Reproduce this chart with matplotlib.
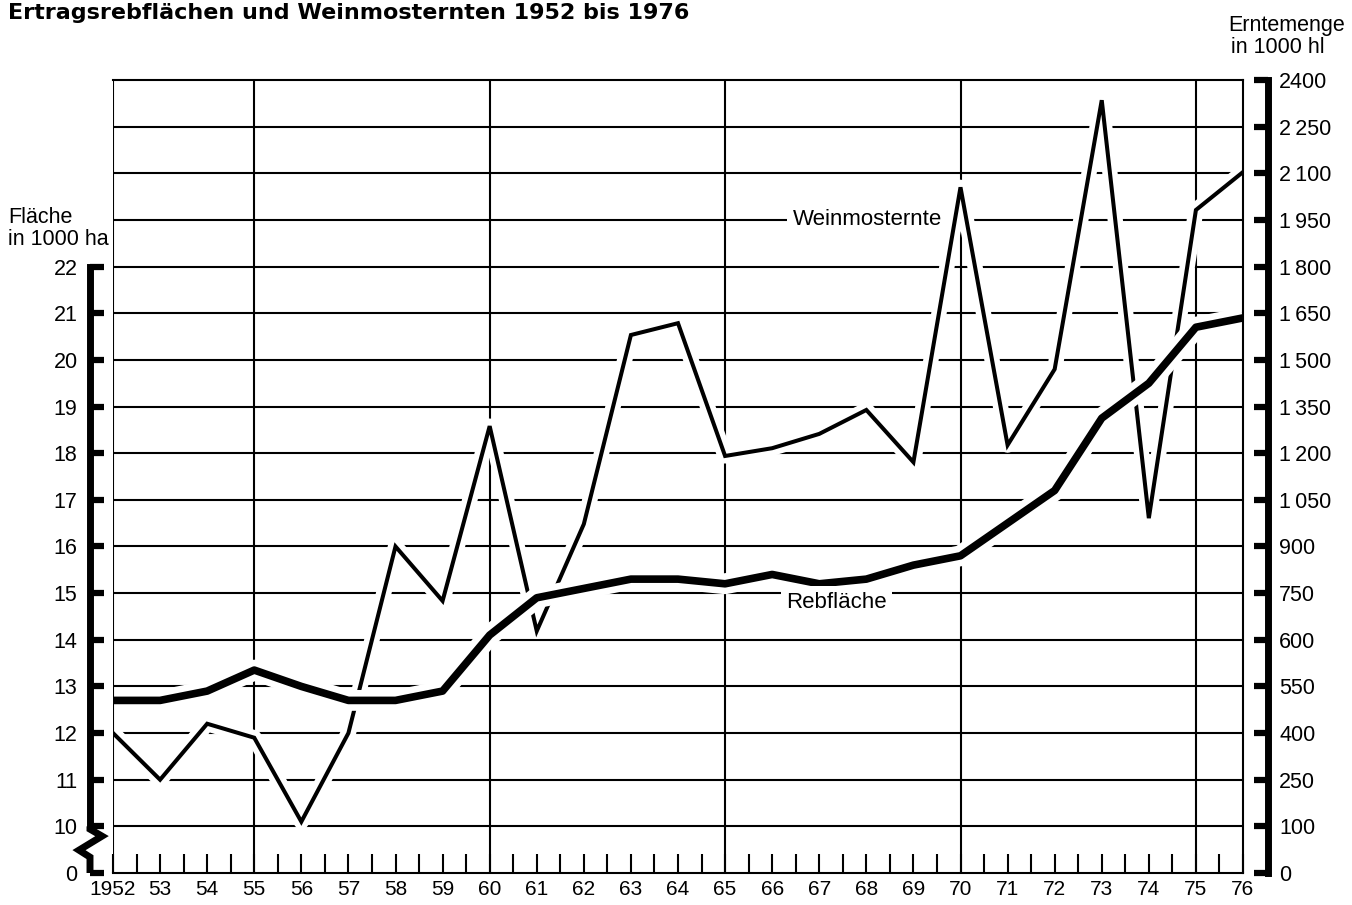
"""Ertragsrebflächen und Weinmosternten 1952 bis 1976 – Nachbau der Grafik
mit zwei gebrochenen Skalen (Fläche links, Erntemenge rechts)."""
import numpy as np
import matplotlib
matplotlib.use("Agg")
import matplotlib.pyplot as plt
import matplotlib.patheffects as pe

plt.rcParams["font.family"] = ["Liberation Sans", "DejaVu Sans"]

# Daten
jahre = list(range(1952, 1977))
rebflaeche = [12.7, 12.7, 12.9, 13.35, 13.0, 12.7, 12.7, 12.9, 14.1, 14.9,
              15.1, 15.3, 15.3, 15.2, 15.4, 15.2, 15.3, 15.6, 15.8, 16.5,
              17.2, 18.75, 19.5, 20.7, 20.9]          # 1000 ha
weinmost = [400, 250, 430, 385, 115, 400, 900, 725, 1287, 628,
            972, 1580, 1618, 1191, 1216, 1262, 1339, 1171, 2055, 1226,
            1470, 2335, 991, 1982, 2104]               # 1000 hl

# Skalen (Rasterlinien in gleichen Abständen, Beschriftung wie im Original)
flaeche_ticks = [0, 10, 11, 12, 13, 14, 15, 16, 17, 18, 19, 20, 21, 22]
ernte_ticks = [0, 100, 250, 400, 550, 600, 750, 900, 1050, 1200, 1350,
               1500, 1650, 1800, 1950, 2100, 2250, 2400]
ernte_labels = ["0", "100", "250", "400", "550", "600", "750", "900",
                "1\u2009050", "1\u2009200", "1\u2009350", "1\u2009500",
                "1\u2009650", "1\u2009800", "1\u2009950", "2\u2009100",
                "2\u2009250", "2400"]
jahr_labels = ["1952"] + [str(j)[2:] for j in jahre[1:]]

# Stützstellen der Funktionsskalen (Index = Rasterposition)
fl_werte = flaeche_ticks + [26]
fl_pos = list(range(len(flaeche_ticks))) + [17]
er_pos = list(range(len(ernte_ticks)))


def fl_fwd(v):
    return np.interp(v, fl_werte, fl_pos)


def fl_inv(p):
    return np.interp(p, fl_pos, fl_werte)


def er_fwd(v):
    return np.interp(v, ernte_ticks, er_pos)


def er_inv(p):
    return np.interp(p, er_pos, ernte_ticks)


W, H = 1352, 905
fig = plt.figure(figsize=(W / 100, H / 100), dpi=100)
ax = fig.add_axes([113 / W, 32 / H, 1130 / W, 793 / H])
ax2 = ax.twinx()
ax.set_zorder(ax2.get_zorder() + 1)
ax.patch.set_visible(False)

ax.set_xlim(1952, 1976)
ax.set_yscale("function", functions=(fl_fwd, fl_inv))
ax.set_ylim(0, 26)
ax2.set_yscale("function", functions=(er_fwd, er_inv))
ax2.set_ylim(0, 2400)

LW_GRID = 1.5
# Raster
for v in ernte_ticks[1:-1]:
    ax2.axhline(v, color="black", lw=LW_GRID, zorder=1)
for j in [1955, 1960, 1965, 1970, 1975]:
    ax2.axvline(j, color="black", lw=LW_GRID, zorder=1)
ax.axvline(1952, color="black", lw=LW_GRID, zorder=3)

# Kurven mit weißem Rand (Unterbrechung des Rasters)
ax2.plot(jahre, weinmost, color="black", lw=2.9, solid_joinstyle="miter",
         path_effects=[pe.Stroke(linewidth=11, foreground="white",
                                 joinstyle="round", capstyle="butt"),
                       pe.Normal()],
         zorder=2)
ax.plot(jahre, rebflaeche, color="black", lw=5.5, solid_joinstyle="round",
        path_effects=[pe.Stroke(linewidth=15, foreground="white",
                                joinstyle="round", capstyle="butt"),
                      pe.Normal()],
        zorder=2)

ax.text(1966.45, 1950, "Weinmosternte", transform=ax2.transData, fontsize=16,
        va="center", ha="left",
        bbox=dict(boxstyle="square,pad=0.3", fc="white", ec="none"))
ax.text(1966.3, 14.8, "Rebfläche", fontsize=16, va="center", ha="left",
        bbox=dict(boxstyle="square,pad=0.25", fc="white", ec="none"))

# Rahmen
for s in ["top", "bottom", "right"]:
    ax.spines[s].set_linewidth(LW_GRID)
for s in ["left", "top", "bottom"]:
    ax2.spines[s].set_visible(False)

# linke Skala
ax.spines["left"].set_position(("outward", 16.5))
ax.spines["left"].set_bounds(10, 22)
ax.spines["left"].set_linewidth(5)
ax.set_yticks(flaeche_ticks, [str(v) for v in flaeche_ticks])
ax.tick_params(axis="y", which="major", direction="in", length=10, width=4.5,
               pad=9, labelsize=15.5)
ax.yaxis.set_minor_locator(matplotlib.ticker.NullLocator())
# Skalenbruch zwischen 0 und 10
x0 = -23 / 1130
zz_x = [x0, x0, x0 - 11 / 1130, x0 + 12 / 1130, x0, x0]
zz_y = [0, 3.4, 4.9, 7.9, 9.4, 10]
ax.plot(zz_x, zz_y, transform=ax.get_yaxis_transform(), color="black", lw=5,
        clip_on=False, solid_joinstyle="miter", solid_capstyle="butt")

# rechte Skala
ax2.spines["right"].set_position(("outward", 18))
ax2.spines["right"].set_linewidth(5)
ax2.set_yticks(ernte_ticks, ernte_labels)
ax2.yaxis.set_minor_locator(matplotlib.ticker.NullLocator())
ax2.tick_params(axis="y", which="major", direction="in", length=10, width=4.5,
                pad=8, labelsize=15.5)

# x-Achse
ax.set_xticks(jahre, jahr_labels)
ax.set_xticks([j + 0.5 for j in jahre[:-1]], minor=True)
ax.tick_params(axis="x", which="both", direction="in", length=14, width=1.5,
               pad=5, labelsize=15)

fig.text(8 / W, 1 - 19 / H, "Ertragsrebflächen und Weinmosternten 1952 bis 1976",
         fontsize=16, fontweight="bold", va="baseline", ha="left",
         family=["DejaVu Sans"])
fig.text(8 / W, 1 - 223 / H, "Fläche", fontsize=15.5, va="baseline", ha="left")
fig.text(8 / W, 1 - 245 / H, "in 1000 ha", fontsize=15.5, va="baseline", ha="left")
fig.text(1228 / W, 1 - 31 / H, "Erntemenge", fontsize=15.5, va="baseline", ha="left")
fig.text(1231 / W, 1 - 53 / H, "in 1000 hl", fontsize=15.5, va="baseline", ha="left")

fig.savefig("out.png", dpi=100)
